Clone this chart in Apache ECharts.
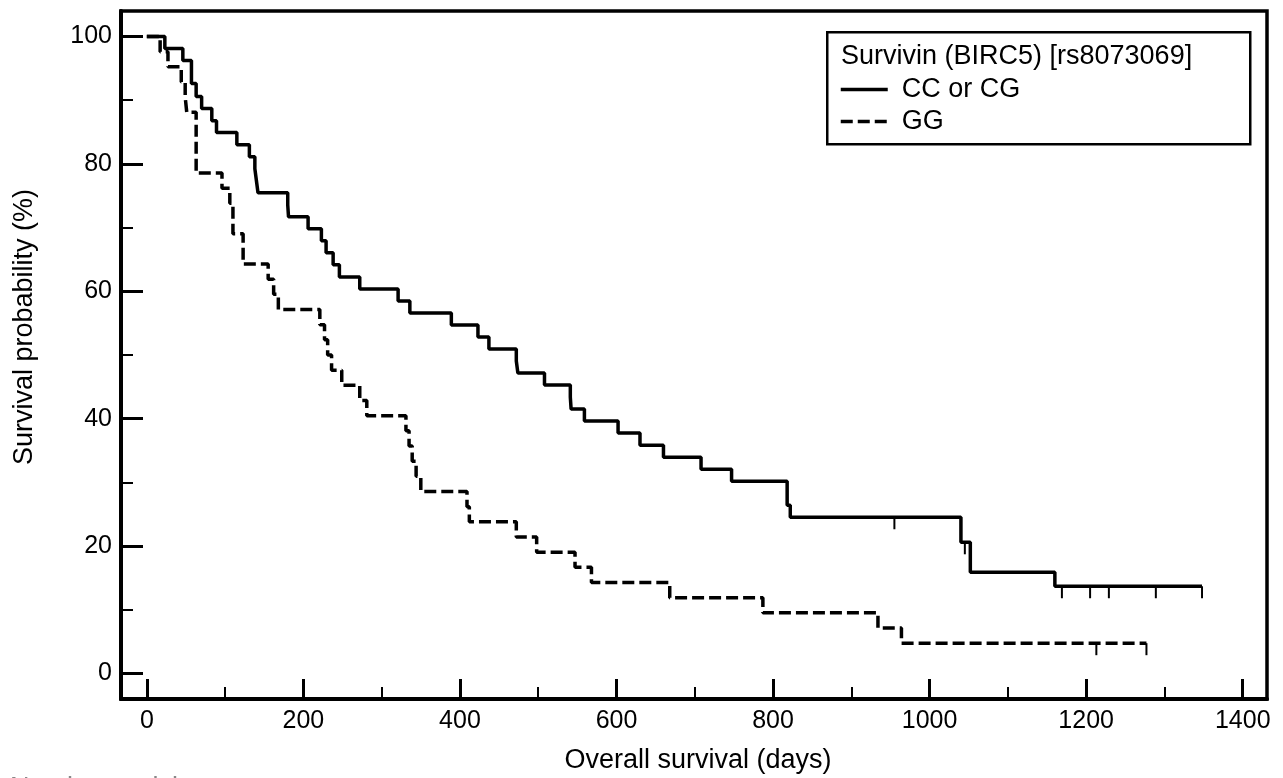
<!DOCTYPE html>
<html>
<head>
<meta charset="utf-8">
<script src="https://cdn.jsdelivr.net/npm/echarts@6/dist/echarts.min.js"></script>
<style>
html,body{margin:0;padding:0;background:#fff;}
#chart{width:1283px;height:778px;}
</style>
</head>
<body>
<div id="chart"></div>
<script>
// ---- data ----
var seriesNames = ['CC or CG', 'GG'];
var legendTitle = 'Survivin (BIRC5) [rs8073069]';
// Kaplan-Meier steps: [day, survival % after the event]
var ccDays = [0, 23, 46, 57, 63, 70, 83, 89, 115, 131, 138, 140, 142, 180, 181, 206, 223, 229, 238, 246, 272, 321, 336, 389, 423, 437, 472, 474, 508, 541, 542, 559, 602, 630, 660, 708, 747, 818, 822, 1040, 1052, 1160, 1348];
var ccSurv = [100, 98.11, 96.23, 92.60, 90.57, 88.68, 86.79, 84.91, 83.02, 81.13, 79.25, 77.36, 75.47, 73.58, 71.70, 69.81, 67.92, 66.04, 64.15, 62.26, 60.38, 58.49, 56.60, 54.72, 52.83, 50.94, 49.06, 47.17, 45.28, 43.40, 41.51, 39.62, 37.74, 35.85, 33.96, 32.08, 30.19, 26.42, 24.53, 20.60, 15.90, 13.70, 13.70];
var ccCensorDays = [955, 1045, 1169, 1205, 1229, 1289, 1348];
var ccCensorSurv = [24.53, 20.60, 13.70, 13.70, 13.70, 13.70, 13.70];

var ggDays = [0, 17, 27, 44, 49, 51, 63, 96, 106, 110, 123, 155, 162, 168, 221, 227, 231, 236, 249, 272, 281, 331, 335, 339, 344, 350, 409, 412, 472, 498, 547, 568, 668, 787, 934, 964, 1277];
var ggSurv = [100, 97.62, 95.24, 92.86, 90.48, 88.10, 78.57, 76.19, 73.81, 69.05, 64.29, 61.90, 59.52, 57.14, 54.76, 52.38, 50.00, 47.62, 45.24, 42.86, 40.48, 38.10, 35.71, 33.33, 30.95, 28.57, 26.19, 23.81, 21.43, 19.05, 16.67, 14.29, 11.90, 9.52, 7.14, 4.76, 4.76];
var ggCensorDays = [1213, 1277];
var ggCensorSurv = [4.76, 4.76];

var xMajorTicks = [0, 200, 400, 600, 800, 1000, 1200, 1400];
var xMinorTicks = [100, 300, 500, 700, 900, 1100, 1300];
var yMajorTicks = [0, 20, 40, 60, 80, 100];
var yMinorTicks = [10, 30, 50, 70, 90];
var xTitle = 'Overall survival (days)';
var yTitle = 'Survival probability (%)';

function zip(a, b) { return a.map(function (v, i) { return [v, b[i]]; }); }

var FONT = 'Liberation Sans, Arial, sans-serif';
var chart = echarts.init(document.getElementById('chart'), null, {renderer: 'canvas'});

function censorRender(params, api) {
  var p = api.coord([api.value(0), api.value(1)]);
  return {
    type: 'line',
    shape: {x1: p[0], y1: p[1], x2: p[0], y2: p[1] + 12},
    style: {stroke: '#000', lineWidth: 2}
  };
}

var X_MIN = -33, X_MAX = 1431, Y_MIN = -4, Y_MAX = 104;

var option = {
  animation: false,
  backgroundColor: '#fff',
  grid: {left: 121, right: 16, top: 11, bottom: 79, show: true, borderColor: '#000', borderWidth: 3.5, backgroundColor: 'transparent'},
  xAxis: [{
    type: 'value', min: X_MIN, max: X_MAX,
    axisLine: {show: true, onZero: false, lineStyle: {color: '#000', width: 4}},
    axisTick: {show: true, inside: true, length: 20, customValues: xMajorTicks, lineStyle: {color: '#000', width: 3}},
    axisLabel: {customValues: xMajorTicks, color: '#000', fontSize: 25, fontFamily: FONT, margin: 10,
      formatter: function (v) { return String(v); }},
    splitLine: {show: false}
  }, {
    type: 'value', min: X_MIN, max: X_MAX, position: 'bottom',
    axisLine: {show: false, onZero: false},
    axisTick: {show: true, inside: true, length: 12, customValues: xMinorTicks, lineStyle: {color: '#000', width: 2}},
    axisLabel: {show: false},
    splitLine: {show: false}
  }],
  yAxis: [{
    type: 'value', min: Y_MIN, max: Y_MAX,
    axisLine: {show: true, onZero: false, lineStyle: {color: '#000', width: 4}},
    axisTick: {show: true, inside: true, length: 22, customValues: yMajorTicks, lineStyle: {color: '#000', width: 3}},
    axisLabel: {customValues: yMajorTicks, color: '#000', fontSize: 25, fontFamily: FONT, margin: 9,
      formatter: function (v) { return String(v); }},
    splitLine: {show: false}
  }, {
    type: 'value', min: Y_MIN, max: Y_MAX, position: 'left',
    axisLine: {show: false, onZero: false},
    axisTick: {show: true, inside: true, length: 12, customValues: yMinorTicks, lineStyle: {color: '#000', width: 2}},
    axisLabel: {show: false},
    splitLine: {show: false}
  }],
  legend: {
    orient: 'vertical', left: 834, top: 71, itemWidth: 47, itemHeight: 14, itemGap: 5,
    data: seriesNames,
    textStyle: {color: '#000', fontSize: 27, fontFamily: FONT, padding: [0, 0, 0, 9]},
    itemStyle: {color: 'rgba(0,0,0,0)', borderWidth: 0, opacity: 0},
    lineStyle: {width: 3.5, color: '#000'}
  },
  graphic: [
    {type: 'rect', left: 826, top: 31, shape: {width: 423, height: 112}, style: {fill: 'rgba(0,0,0,0)', stroke: '#000', lineWidth: 2.5}, z: 1},
    {type: 'text', left: 841, top: 43, style: {text: legendTitle, fill: '#000', font: '27px ' + FONT}},
    {type: 'text', x: 698, y: 761, style: {text: xTitle, fill: '#000', font: '27px ' + FONT, align: 'center', verticalAlign: 'middle'}},
    {type: 'text', x: 25, y: 327, rotation: Math.PI / 2, style: {text: yTitle, fill: '#000', font: '27px ' + FONT, align: 'center', verticalAlign: 'middle'}},
    {type: 'text', left: 10, top: 775, style: {text: 'Number at risk', fill: '#888', font: '27px ' + FONT}}
  ],
  series: [{
    name: seriesNames[0], type: 'line', step: 'end', data: zip(ccDays, ccSurv), symbol: 'none',
    lineStyle: {color: '#000', width: 3.5}, itemStyle: {color: '#000'}
  }, {
    name: seriesNames[1], type: 'line', step: 'end', data: zip(ggDays, ggSurv), symbol: 'none',
    lineStyle: {color: '#000', width: 3.5, type: [12, 5]}, itemStyle: {color: '#000'}
  }, {
    type: 'custom', renderItem: censorRender, data: zip(ccCensorDays, ccCensorSurv), silent: true
  }, {
    type: 'custom', renderItem: censorRender, data: zip(ggCensorDays, ggCensorSurv), silent: true
  }]
};
chart.setOption(option);
</script>
</body>
</html>
